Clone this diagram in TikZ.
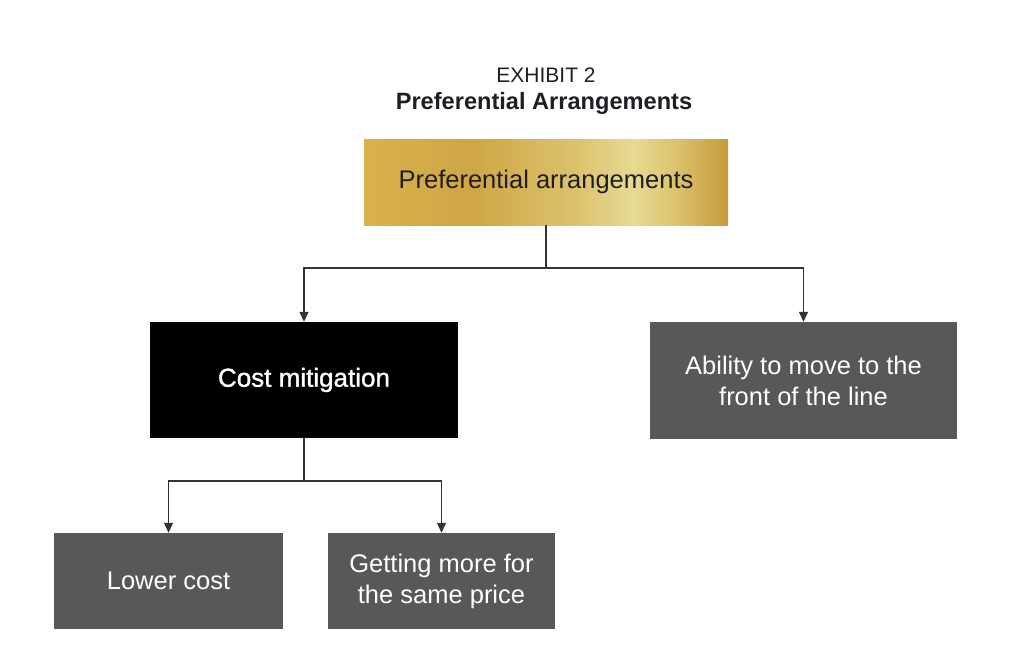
\documentclass[tikz,border=0pt]{standalone}
\usepackage{fontspec}
\setmainfont{Liberation Sans}
\newfontfamily\medfont[FakeBold=1.2]{Liberation Sans}
\usetikzlibrary{arrows.meta}
\definecolor{boxgray}{HTML}{58585A}
\definecolor{linegray}{HTML}{333333}
\definecolor{titlecol}{HTML}{1E1E24}
\definecolor{goldA}{HTML}{D8B24E}
\definecolor{goldB}{HTML}{CFA646}
\definecolor{goldC}{HTML}{DCC26C}
\definecolor{goldD}{HTML}{E6DA92}
\definecolor{goldE}{HTML}{C49C3A}
\pgfdeclarehorizontalshading{goldshade}{100bp}{color(0bp)=(goldA); color(25bp)=(goldA); color(40bp)=(goldB); color(54bp)=(goldC); color(62bp)=(goldD); color(68bp)=(goldC); color(75bp)=(goldE); color(100bp)=(goldE)}
\tikzset{
  box/.style={inner sep=0pt, align=center, font=\fontsize{25.5}{31}\selectfont},
  graybox/.style={box, fill=boxgray, text=white},
  conn/.style={draw=linegray, line width=1.3pt},
  arr/.style={conn, -{Triangle[length=10pt,width=9pt]}},
}
\begin{document}
\begin{tikzpicture}[x=1pt,y=-1pt]
\useasboundingbox (0,0) rectangle (1024,661);
\fill[white] (0,0) rectangle (1024,661);
\node[anchor=base, text=titlecol, font=\fontsize{21}{25}\selectfont] (ex) at (546,82) {EXHIBIT 2};
\node[anchor=base, text=titlecol, font=\fontsize{23.6}{28}\selectfont\bfseries] (ttl) at (544,109) {Preferential Arrangements};
\node[box, shading=goldshade, minimum width=364pt, minimum height=86pt, text=titlecol] (pa) at (546,182) {Preferential arrangements};
\node[box, fill=black, text=white, minimum width=308pt, minimum height=116pt, font=\fontsize{26}{31}\medfont] (cm) at (304,380) {Cost mitigation};
\node[graybox, minimum width=307pt, minimum height=117pt] (ab) at (803.5,380.5) {Ability to move to the\\front of the line};
\node[graybox, minimum width=229pt, minimum height=96pt] (lc) at (168.5,581) {Lower cost};
\node[graybox, minimum width=227pt, minimum height=96pt] (gm) at (441.5,581) {Getting more for\\the same price};
\coordinate (j1) at (546,268);
\coordinate (j2) at (304,481);
\draw[conn] (pa.south) -- (j1);
\draw[arr] (j1) -| (cm.north);
\draw[arr] (j1) -| (ab.north);
\draw[conn] (cm.south) -- (j2);
\draw[arr] (j2) -| (lc.north);
\draw[arr] (j2) -| (gm.north);
\end{tikzpicture}
\end{document}
